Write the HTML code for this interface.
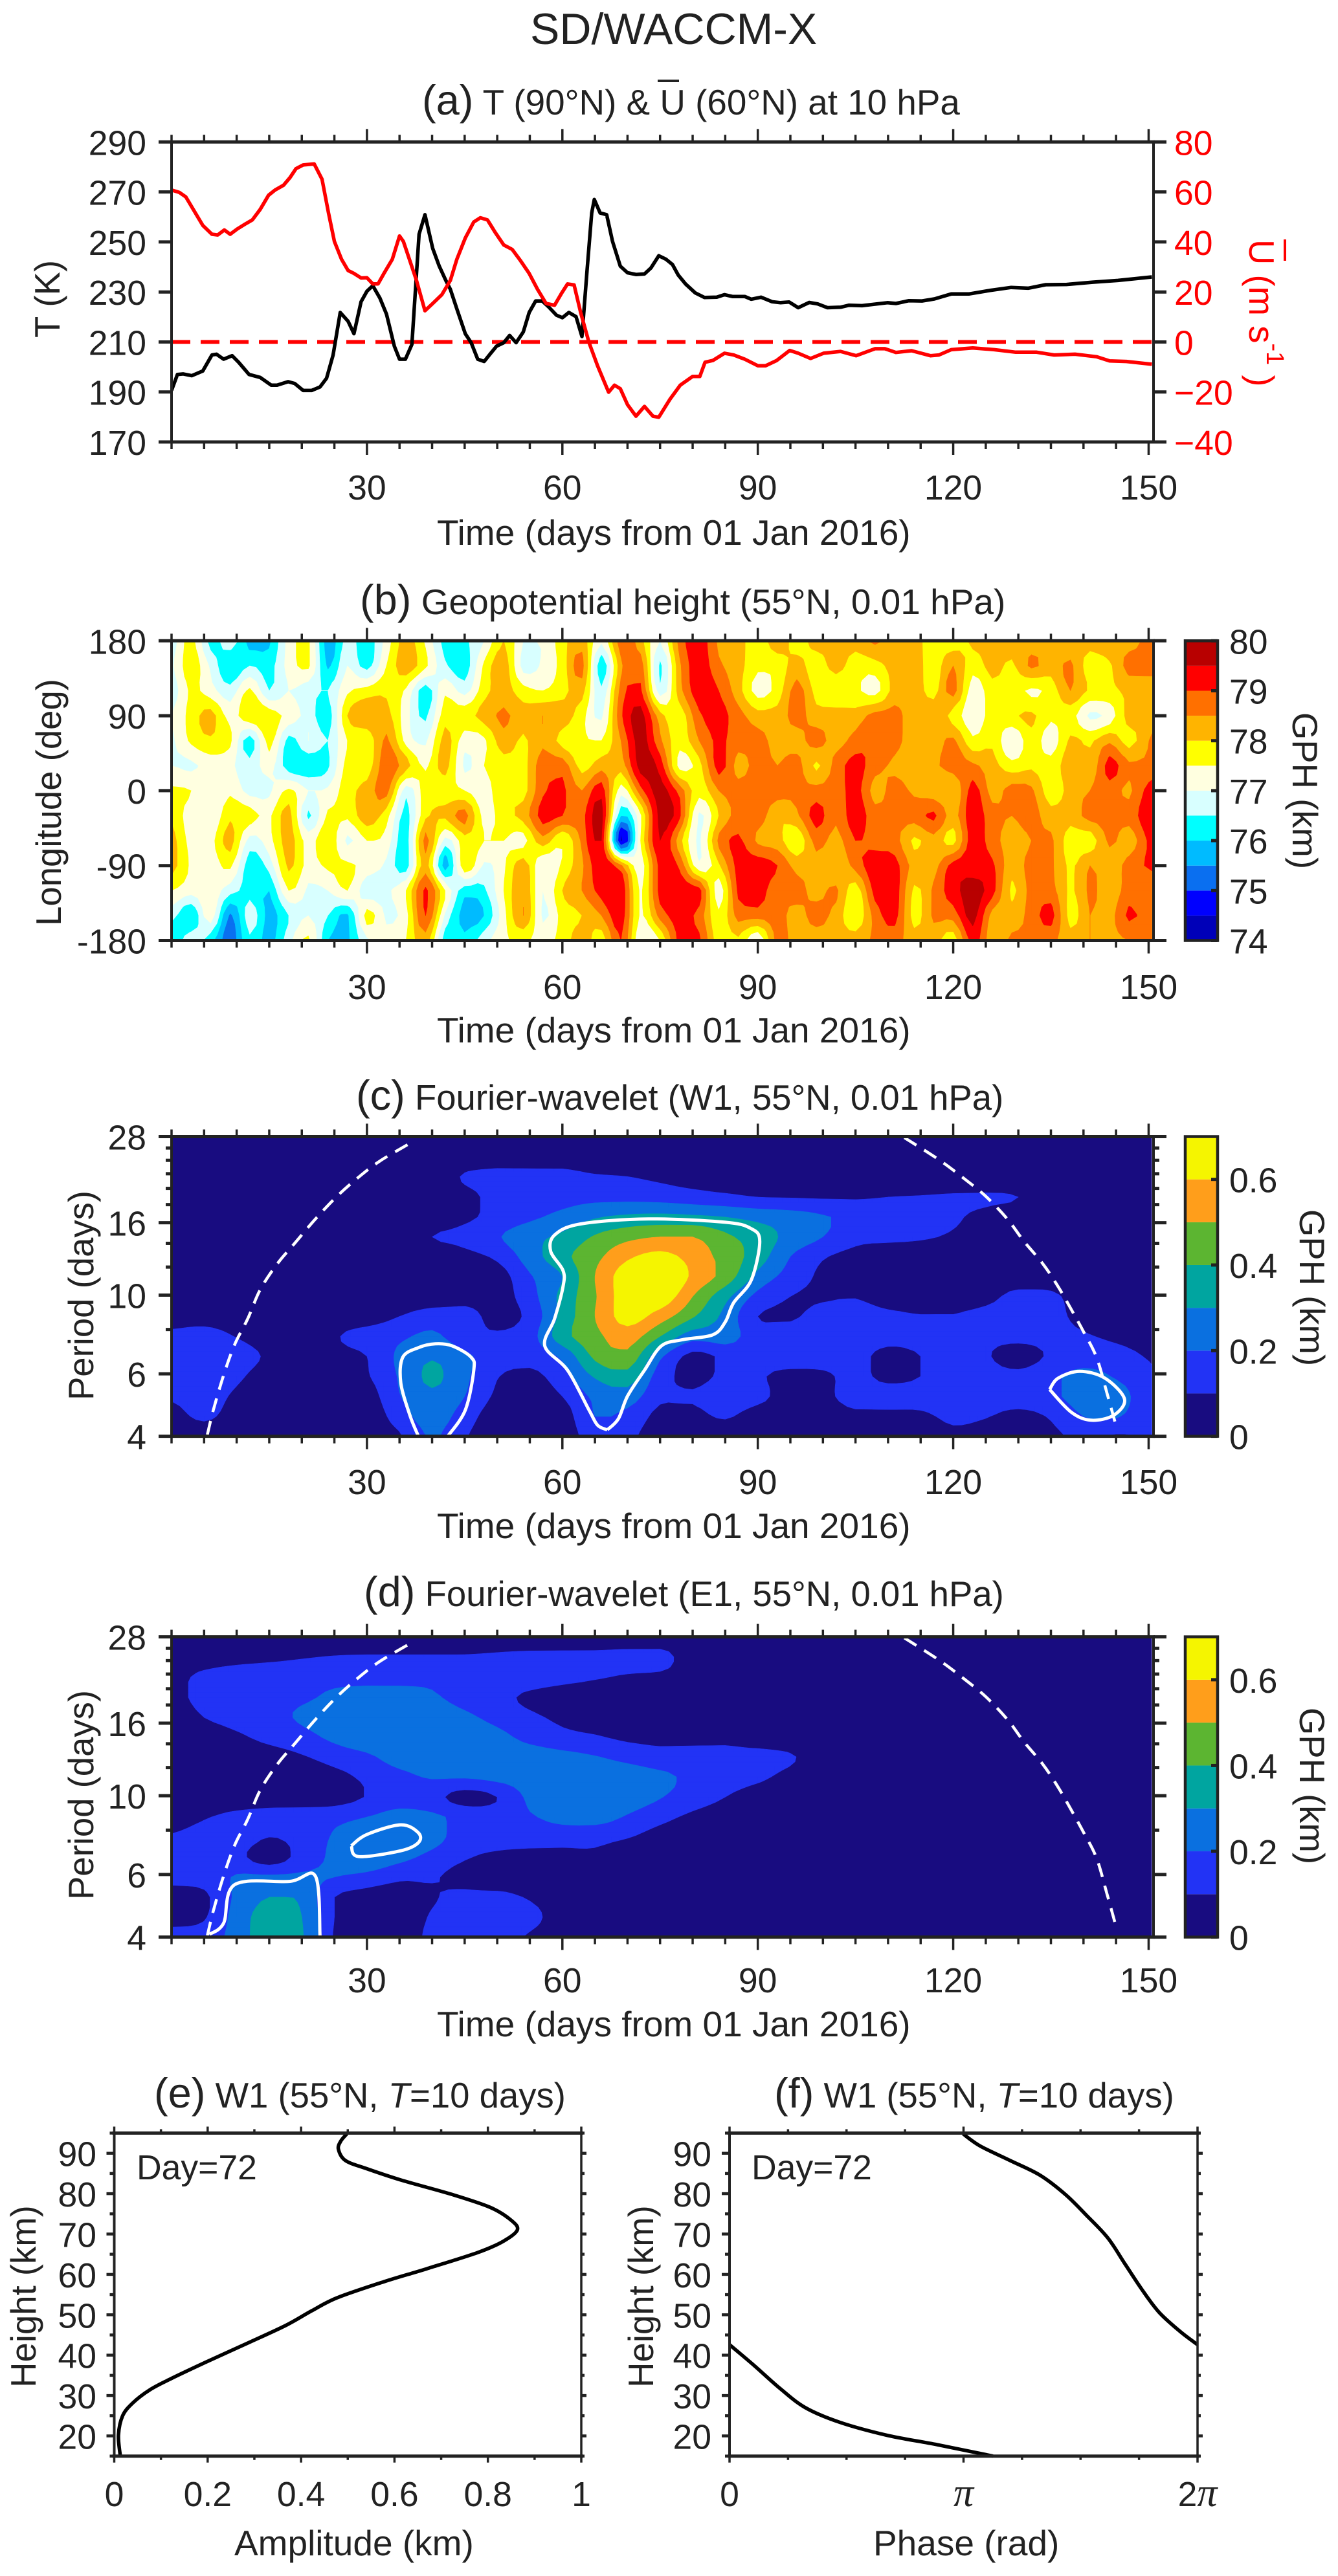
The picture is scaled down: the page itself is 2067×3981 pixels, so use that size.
<!DOCTYPE html>
<html lang="en">
<head>
<meta charset="utf-8">
<title>SD/WACCM-X</title>
<style>
html,body{margin:0;padding:0;background:#fff}
svg{display:block}
text{font-family:"Liberation Sans",sans-serif;fill:#222}
</style>
</head>
<body>
<svg id="fig" xmlns="http://www.w3.org/2000/svg" width="2067" height="3981" viewBox="0 0 2067 3981">
<rect x="0" y="0" width="2067" height="3981" fill="#fff"/>
<text x="819" y="68" font-size="68">SD/WACCM-X</text>

<text x="652" y="177" font-size="54.8"><tspan font-size="65">(a)</tspan> T (90°N) &amp; U (60°N) at 10 hPa</text>
<line x1="1016" y1="125" x2="1049" y2="125" stroke="#222" stroke-width="4"/>
<text transform="translate(92,462) rotate(-90)" text-anchor="middle" font-size="54.5">T (K)</text>
<text transform="translate(1930,370) rotate(90)" font-size="54.5" style="fill:#f00">U  (m s<tspan dy="-27" font-size="38">-1</tspan><tspan dy="27"> )</tspan></text>
<line x1="1985" y1="370" x2="1985" y2="403" stroke="#f00" stroke-width="4"/>
<text x="675" y="842" font-size="55">Time (days from 01 Jan 2016)</text>

<text x="556" y="949" font-size="55"><tspan font-size="65">(b)</tspan> Geopotential height (55°N, 0.01 hPa)</text>
<text transform="translate(94,1240) rotate(-90)" text-anchor="middle" font-size="54.5">Longitude (deg)</text>
<text x="675" y="1611" font-size="55">Time (days from 01 Jan 2016)</text>
<text transform="translate(1997,1222) rotate(90)" text-anchor="middle" font-size="54.5">GPH (km)</text>

<text x="550" y="1715" font-size="54.5"><tspan font-size="65">(c)</tspan> Fourier-wavelet (W1, 55°N, 0.01 hPa)</text>
<text transform="translate(144,2002) rotate(-90)" text-anchor="middle" font-size="54.5">Period (days)</text>
<text x="675" y="2377" font-size="55">Time (days from 01 Jan 2016)</text>
<text transform="translate(2008,1990) rotate(90)" text-anchor="middle" font-size="54.5">GPH (km)</text>

<text x="562" y="2482" font-size="54.5"><tspan font-size="65">(d)</tspan> Fourier-wavelet (E1, 55°N, 0.01 hPa)</text>
<text transform="translate(144,2774) rotate(-90)" text-anchor="middle" font-size="54.5">Period (days)</text>
<text x="675" y="3147" font-size="55">Time (days from 01 Jan 2016)</text>
<text transform="translate(2008,2760) rotate(90)" text-anchor="middle" font-size="54.5">GPH (km)</text>

<text x="238" y="3257" font-size="54.5"><tspan font-size="65">(e)</tspan> W1 (55°N, <tspan font-style="italic">T</tspan>=10 days)</text>
<text transform="translate(55,3549) rotate(-90)" text-anchor="middle" font-size="54.5">Height (km)</text>
<text x="362" y="3949" font-size="55">Amplitude (km)</text>
<text x="211" y="3368" font-size="53.5">Day=72</text>

<text x="1196" y="3257" font-size="54.5"><tspan font-size="65">(f)</tspan> W1 (55°N, <tspan font-style="italic">T</tspan>=10 days)</text>
<text transform="translate(1009,3549) rotate(-90)" text-anchor="middle" font-size="54.5">Height (km)</text>
<text x="1349" y="3949" font-size="55">Phase (rad)</text>
<text x="1161" y="3368" font-size="53.5">Day=72</text>
</svg>

<script>
/* ---------- shared ticks ---------- */
const timeMajorTicks = [30,60,90,120,150];
const timeMinorTicks = [0,5,10,15,20,25,35,40,45,50,55,65,70,75,80,85,95,100,105,110,115,125,130,135,140,145];

/* ---------- panel (a) ---------- */
const tempTicks = [170,190,210,230,250,270,290];
const windTicks = [-40,-20,0,20,40,60,80];
const tempDays = [0,0.9,1.8,3.1,4.8,6.2,6.9,8,9.3,10.3,11.9,13.6,15.3,16.2,17.9,18.9,20.2,21.5,22.8,23.8,24.8,25.9,27.1,28,29.1,30,30.9,32,33,34.2,35,35.9,36.9,37.5,38,38.9,40.1,41.1,42.1,42.8,43.8,45.1,46,47,48,49,49.9,51,51.9,52.9,54,54.9,55.9,56.9,57.9,59.1,60,61,62.1,63,63.8,64.5,64.9,65.8,66.8,67.7,68.9,70,71.3,72.6,73.6,74.8,75.9,76.9,77.8,78.9,80.4,81.8,83.7,84.9,86.1,88,89,90.5,92.2,93.5,94.8,96.2,97.9,99.2,100.7,102.7,104,106,109.9,111.2,113.2,115.2,117.1,119.7,122.4,125.6,128.9,131.5,134.2,137.4,141.4,145.3,150.5];
const tempValues = [190.6,197,197.2,196.5,198.4,204.8,205.1,203.1,204.5,201.9,197,195.8,192.7,192.7,194.1,193.4,190.6,190.6,192,195.5,204.8,221.8,218.3,213.3,226.1,230.3,232.5,227.5,221.1,208.3,203.1,203.1,209,233.2,253.1,260.9,247.4,240.3,234.6,231.1,223.2,213.3,209.7,203.1,202.2,205.5,208.3,209.7,212.6,209.7,214,221.8,226.4,226.4,224,220.7,219.7,221.8,220.1,212.2,238.9,261.6,267,261.6,260.9,250.2,240.3,237.7,237,237.2,239.6,244.5,243.1,241,236.7,233.2,229.6,227.8,227.9,228.9,228.2,228.2,227.1,227.9,226.1,225.7,226,223.7,225.8,225.2,223.7,223.9,224.7,224.5,225.7,225.4,226.5,226.4,227.2,229.2,229.2,230.6,231.8,231.5,232.9,233,233.9,234.6,236];
const windDays = [0,1.2,2.2,3.5,4.8,6.2,7.1,8.1,9,10.1,11.4,12.4,13.6,14.9,15.9,17.2,18.2,19.1,20.2,21.9,23.1,24.1,25,26.1,27.1,28,29.1,30,30.9,31.7,32.6,33.9,35,35.6,36.6,37.6,38.9,40.1,41.5,42.8,43.8,45.1,46.4,47.4,48.5,49.7,51,52.3,53.6,54.9,56.2,57.5,58.8,59.9,60.8,61.8,62.8,64.1,65.4,67.1,68,68.9,70,71.3,72.6,73.9,74.8,76.5,78.1,80,81.1,81.9,83.1,84.9,86.3,88,90,91.2,92.9,94.9,96.2,98.1,100.1,102.7,105.1,108,109.5,111.2,113.6,116.5,117.8,119.7,123,126.3,129.6,132.8,135.5,138.7,142,144,146.6,150.5];
const windValues = [60.8,59.8,58,52.3,46.6,43.1,42.8,44.8,43.1,45.2,47.3,48.8,53,58.7,60.8,62.7,65.8,69.3,70.8,71.2,65.1,51.6,40.2,33.1,28.6,27.4,25.6,25.7,23.2,23.2,27.4,33.1,42.4,40.2,32.4,24.6,12.5,15.4,18.9,24.6,33.1,41.6,48,49.7,48.8,43.8,38.8,37,32.4,27.4,21,15.4,14.7,19.6,23.2,22.8,11.8,-0.3,-9.5,-20.1,-17.3,-18.7,-25.1,-29.7,-25.8,-29.7,-30.1,-23,-17.3,-13.8,-13.8,-8.1,-7.4,-4.5,-5.2,-6.9,-9.5,-9.5,-7.4,-3.4,-4.5,-6.6,-4.5,-3.8,-5.5,-2.7,-2.7,-4.2,-3.5,-5.5,-5.2,-3.1,-2.4,-3.1,-4.1,-4.1,-5.2,-4.9,-5.9,-7.6,-7.8,-8.9];
const windZeroLine = [0];

/* ---------- panel (b) geopotential height field, rows by longitude, columns every 3 days ---------- */
const gphDays = [0,3,6,9,12,15,18,21,24,27,30,33,36,39,42,45,48,51,54,57,60,63,66,69,72,75,78,81,84,87,90,93,96,99,102,105,108,111,114,117,120,123,126,129,132,135,138,141,144,147,150.5];
const gphLongitudes = [180,150,120,90,60,30,0,-30,-60,-90,-120,-150,-180];
const gphLonTicks = [-180,-90,0,90,180];
const gphLevels = [74,74.5,75,75.5,76,76.5,77,77.5,78,78.5,79,79.5,80];
const gphColors = ['#0000b8','#0000ff','#0a6ff0','#00bbff','#00ffff','#d8ffff','#ffffe0','#ffff00','#ffb400','#ff7000','#ff0000','#b80000'];
const gphColorbarTicks = [74,75,76,77,78,79,80];
const gphLon180 = [76.7,77.7,76.3,76.8,75.8,75.9,77.2,77.6,75.7,76.7,76.2,77.2,78.2,77.4,76.3,76.4,77,78,77,77,77.8,78.3,77.1,78.8,78.2,77.0,78.7,79.3,78.4,78.2,77.7,78.3,77.8,78.2,78.2,78.2,78.6,78.2,78.2,77.7,77.7,78.1,78.2,78.3,78.2,78.2,78.1,78.2,78.5,78.3,78.7];
const gphLon150 = [76.9,77.8,76.9,76.0,76.5,76.3,77.2,77.6,75.9,77,76.3,77.5,78.3,77.6,76.6,76.2,77.6,78.3,76.8,77.1,77.7,78.7,76.1,78.4,78.8,76.4,78.4,79.3,78.6,78.2,77.6,77.7,78.2,77.7,78.2,77.7,77.8,78.2,78.3,77.7,78.5,77.7,78.2,77.9,78.6,78.2,78.6,77.7,77.9,78.7,78.7];
const gphLon120 = [76.7,77.6,77.2,76.7,77.6,76.5,77.0,76.7,76.5,77.4,77.7,77.9,77.4,76.2,77.4,76.8,77.8,78.2,77.7,77.5,77.8,78.2,76.6,78.7,79.1,76.7,78.3,79.3,79.0,78.2,77.3,77.7,78.7,77.8,77.6,77.6,77.3,78.2,78.3,77.8,78.7,77.2,77.8,77.8,77.4,77.7,78.5,77.9,77.9,78.1,78.2];
const gphLon90 = [77.0,77.7,78.2,77.3,77.9,77.8,77.3,76.8,76.2,78,78.4,78.2,77.2,76.4,77.8,77.8,78.2,78.6,78.2,78.5,78.3,77.7,76.9,78.9,79.7,78.2,77.7,78.9,79.2,78.7,78.2,78.2,78.7,78.2,78.2,78.2,78.7,78.7,78.2,78.4,77.8,77.2,77.7,77.9,78.1,77.6,77.7,76.9,77.2,78.2,78.2];
const gphLon60 = [76.9,77.6,77.9,77.6,76.2,77.7,76.3,77.0,76.5,77.5,77.6,78.6,77.3,76.9,78.2,77.2,77.4,78.3,77.9,78.4,77.8,77.6,77.5,78.5,79.7,78.6,77.7,78.5,79.1,78.7,78.7,78.3,78.3,78.7,78.3,78.7,79,78.7,78.2,78.2,78.6,77.6,77.9,77.0,77.8,77.2,78.1,77.9,78.4,77.8,78.6];
const gphLon30 = [77.0,76.9,77.2,77.1,76.7,77.2,76.2,76.1,76.4,77.7,77.7,78.8,78.2,77.4,78.2,76.9,77.5,77.8,77.8,78.8,78.8,77.8,78.3,78.2,79.7,79.3,77.3,77.8,79.2,78.3,78.7,78.5,78.7,77.9,78.7,79.2,78.7,78.4,78.2,78.4,78.7,78.6,78.2,77.7,77.9,77.7,78.3,78.1,79.2,78.6,78.6];
const gphLon0 = [77.6,77.5,77.0,77.4,76.8,76.9,77.6,77.0,77.1,77.8,78.2,78.7,76.7,77.8,77.7,77.5,77.2,78,77.8,78.9,79.1,78.5,79.3,77.2,78.8,79.7,78.8,77.7,78.5,78.7,78.9,78.7,78.6,78.7,78.7,79.2,78.3,78.7,78.4,78.2,78,79.2,78.3,78.7,78.6,77.7,78.2,78.5,78.8,78.4,79.3];
const gphLonM30 = [77.9,77.2,77,77.9,77.7,77.4,78.2,76.4,77.6,77.6,78.3,77.7,76.3,77.9,78.1,78.7,77.3,77.8,78.2,79.2,79,78.8,79.7,76,77.4,79.7,79.1,76.9,78,78.7,78.8,78.1,78.4,79.2,78.6,79.3,78.7,78.7,78.7,79.1,78.3,79.3,78.7,78.5,78.7,78.2,78.2,78.7,78.7,78.7,79.5];
const gphLonM60 = [78.2,77.3,77.3,78.2,76.8,77.3,78.2,77.3,77.9,76.9,77.5,77.3,76.2,78.7,76.8,77.8,77.5,77.5,77.3,78.3,77.5,78.6,79.5,74.4,77.5,79.5,78.2,76.9,78.6,79.1,78.4,78.2,77.6,78.7,78.3,79,78.8,78.7,77.9,78.3,77.8,79.3,78.7,78.3,78.5,78.6,77.7,77.7,78.6,78.2,79.2];
const gphLonM90 = [78.2,77.4,77.2,77.6,76.2,76.7,78.1,77.3,77.6,77.6,77.3,76.9,76.2,78.3,75.7,77.9,76.9,77.4,78.3,77,77.6,78.4,79.4,78.6,77.2,79.2,78.9,77.1,77.9,79.2,79.3,79,78.3,78.3,78,78.7,79.3,79.2,78.3,78.3,79.2,79.3,79.1,78.2,78.7,78.6,77.9,78.5,78.2,78.7,79.1];
const gphLonM120 = [77.5,77.2,77.3,76.7,76.3,76.0,77.5,76.9,77,77.5,76.7,76.9,77.5,79.1,77.5,76.2,76.4,77.5,78.4,77,78,78.5,79.2,79.4,77.4,79.2,79.3,79.2,77.2,79.1,79.3,78.6,78.7,78.3,78.6,77.7,79.2,79.3,77.9,78.6,79.3,79.7,79.2,77.9,78.7,78.7,77.9,78.6,78.2,78.7,78.6];
const gphLonM150 = [76.7,76,77.3,75.4,76.8,75.8,76.5,77,76.5,75.9,77.7,76.9,77.3,79,76.9,75.8,76.0,77.3,78.5,76.9,77.7,78,78.5,79.3,77.4,78.7,79.2,78.8,77.6,78.7,78.7,78.7,78.3,78.7,78.3,77.6,78.7,79.2,77.8,78.6,78.7,79.7,78.3,78.2,78.7,79.2,77.8,78.5,78.3,79.1,78.6];
const gphLonM180 = [76,76.8,76.2,75.2,76.4,75.8,76.8,77.6,76.0,75.9,76.9,77.2,77.5,78.3,76.2,76.1,76.8,77.4,77.6,77.3,77.7,78.3,77.7,79,77,77.5,79.2,79.1,77.7,77.9,77,78.7,78.2,78.2,78.2,78.2,78.6,78.7,78.2,78.2,77.7,79.2,78.2,78.6,78.5,78.6,78.2,78.5,78.4,78.5,78.8];

/* ---------- panels (c),(d) wavelet amplitude, rows by period, columns every 5 days ---------- */
const waveletDays = [0,5,10,15,20,25,30,35,40,45,50,55,60,65,70,75,80,85,90,95,100,105,110,115,120,125,130,135,140,145,150.5];
const waveletPeriods = [4,4.55,5.18,5.9,6.72,7.65,8.71,9.91,11.3,12.86,14.6,16.6,18.9,21.6,24.6,28];
const periodMajorTicks = [4,6,10,16,28];
const periodMinorTicks = [8,12,14,18,20,22,24,26];
const ampLevels = [0,0.1,0.2,0.3,0.4,0.5,0.6,0.7];
const ampColors = ['#180c80','#2233f5','#0a70e0','#00a5a0','#5cb531','#ff9e1b','#f5f500'];
const ampColorbarTicks = [0,0.2,0.4,0.6];

const w1P04 = [.03,.03,.03,.03,.03,.03,.03,.09,.21,.11,.03,.03,.05,.14,.12,.05,.04,.04,.04,.04,.04,.04,.04,.04,.08,.06,.05,.08,.12,.09,.11];
const w1P05a = [.06,.12,.05,.03,.03,.03,.03,.15,.25,.15,.04,.03,.05,.2,.17,.07,.07,.11,.05,.04,.04,.07,.07,.08,.12,.105,.07,.11,.2,.21,.11];
const w1P05b = [.11,.15,.08,.03,.03,.03,.05,.195,.28,.2,.08,.04,.1,.22,.25,.12,.11,.16,.13,.05,.07,.15,.15,.14,.16,.15,.15,.18,.24,.25,.12];
const w1P06 = [.12,.16,.12,.04,.03,.05,.09,.21,.32,.22,.105,.07,.16,.31,.36,.15,.07,.12,.11,.07,.08,.13,.07,.10,.14,.14,.13,.18,.23,.19,.11];
const w1P07a = [.14,.18,.16,.08,.04,.07,.10,.22,.29,.22,.15,.14,.22,.42,.47,.22,.07,.12,.13,.15,.15,.14,.06,.10,.13,.11,.05,.115,.15,.14,.09];
const w1P07b = [.12,.14,.095,.04,.03,.09,.14,.18,.22,.14,.115,.16,.36,.47,.55,.40,.24,.25,.14,.14,.16,.16,.14,.13,.12,.12,.13,.13,.11,.08,.05];
const w1P09 = [.06,.06,.05,.05,.05,.05,.05,.10,.15,.15,.06,.13,.33,.50,.64,.55,.41,.27,.10,.09,.13,.14,.12,.105,.105,.13,.15,.13,.07,.04,.04];
const w1P10 = [.03,.03,.03,.03,.03,.03,.03,.03,.04,.05,.05,.16,.33,.49,.66,.67,.50,.33,.17,.10,.09,.095,.06,.05,.05,.07,.13,.12,.05,.03,.03];
const w1P11 = [.03,.03,.03,.03,.03,.03,.03,.03,.03,.03,.05,.19,.30,.50,.66,.72,.58,.46,.27,.16,.08,.05,.05,.05,.05,.05,.04,.04,.04,.04,.04];
const w1P13 = [.03,.03,.03,.03,.03,.03,.03,.03,.03,.07,.12,.25,.37,.47,.58,.63,.56,.46,.35,.20,.11,.07,.05,.05,.05,.05,.05,.05,.05,.05,.05];
const w1P15 = [.03,.03,.03,.03,.03,.03,.03,.04,.10,.13,.19,.27,.32,.41,.47,.50,.50,.42,.35,.27,.20,.13,.12,.11,.09,.07,.04,.03,.03,.03,.03];
const w1P17 = [.03,.03,.03,.03,.03,.03,.03,.03,.03,.08,.13,.18,.23,.29,.32,.33,.32,.30,.27,.245,.21,.17,.15,.14,.11,.08,.05,.03,.03,.03,.03];
const w1P19 = [.03,.03,.03,.03,.03,.03,.03,.03,.03,.07,.13,.15,.16,.17,.17,.16,.14,.12,.10,.095,.09,.09,.10,.105,.11,.11,.10,.05,.03,.03,.03];
const w1P22 = [.03,.03,.03,.03,.03,.03,.03,.03,.03,.11,.13,.13,.13,.11,.10,.08,.06,.05,.04,.04,.04,.04,.04,.04,.04,.04,.04,.04,.04,.04,.04];
const w1P25 = [.03,.03,.03,.03,.03,.03,.03,.03,.03,.03,.05,.05,.05,.03,.03,.03,.03,.03,.03,.03,.03,.03,.03,.03,.03,.03,.03,.03,.03,.03,.03];
const w1P28 = [.02,.02,.02,.02,.02,.02,.02,.02,.02,.02,.02,.02,.02,.02,.02,.02,.02,.02,.02,.02,.02,.02,.02,.02,.02,.02,.02,.02,.02,.02,.02];

const e1P04 = [.13,.15,.24,.37,.31,.09,.04,.05,.12,.14,.13,.09,.03,.03,.03,.03,.03,.03,.03,.03,.03,.03,.03,.03,.03,.03,.03,.03,.03,.03,.03];
const e1P05a = [.07,.09,.24,.35,.3,.1,.04,.04,.11,.15,.15,.13,.05,.03,.03,.03,.03,.03,.03,.03,.03,.03,.03,.03,.03,.03,.03,.03,.03,.03,.03];
const e1P05b = [.07,.08,.22,.30,.28,.10,.05,.04,.09,.13,.13,.09,.04,.03,.03,.03,.03,.03,.03,.03,.03,.03,.03,.03,.03,.03,.03,.03,.03,.03,.03];
const e1P06 = [.12,.14,.21,.22,.22,.2,.17,.12,.11,.06,.03,.03,.03,.03,.03,.03,.03,.03,.03,.03,.03,.03,.03,.03,.03,.03,.03,.03,.03,.03,.03];
const e1P07a = [.13,.16,.13,.04,.14,.22,.27,.23,.17,.11,.08,.07,.07,.08,.04,.03,.03,.03,.03,.03,.03,.03,.03,.03,.03,.03,.03,.03,.03,.03,.03];
const e1P07b = [.11,.15,.16,.10,.14,.21,.27,.29,.24,.15,.14,.14,.14,.13,.105,.06,.04,.03,.03,.03,.03,.03,.03,.03,.03,.03,.03,.03,.03,.03,.03];
const e1P09 = [.04,.09,.13,.15,.16,.17,.20,.24,.22,.17,.15,.19,.23,.24,.19,.13,.08,.05,.03,.03,.03,.03,.03,.03,.03,.03,.03,.03,.03,.03,.03];
const e1P10 = [.03,.03,.03,.03,.03,.05,.105,.15,.13,.06,.1,.22,.25,.26,.25,.205,.15,.1,.05,.03,.03,.03,.03,.03,.03,.03,.03,.03,.03,.03,.03];
const e1P11 = [.03,.03,.03,.03,.03,.07,.12,.17,.21,.21,.23,.25,.26,.26,.25,.22,.18,.15,.12,.07,.03,.03,.03,.03,.03,.03,.03,.03,.03,.03,.03];
const e1P13 = [.03,.03,.03,.05,.09,.14,.18,.25,.27,.27,.26,.25,.23,.205,.17,.14,.14,.14,.14,.11,.05,.03,.03,.03,.03,.03,.03,.03,.03,.03,.03];
const e1P15 = [.04,.04,.08,.13,.17,.22,.27,.29,.29,.27,.23,.17,.13,.11,.08,.07,.07,.07,.04,.03,.03,.03,.03,.03,.03,.03,.03,.03,.03,.03,.03];
const e1P17 = [.04,.10,.14,.17,.21,.23,.245,.25,.25,.22,.17,.12,.08,.05,.03,.03,.03,.03,.03,.03,.03,.03,.03,.03,.03,.03,.03,.03,.03,.03,.03];
const e1P19 = [.07,.13,.15,.17,.19,.21,.22,.22,.21,.17,.13,.08,.05,.03,.03,.03,.03,.03,.03,.03,.03,.03,.03,.03,.03,.03,.03,.03,.03,.03,.03];
const e1P22 = [.06,.13,.17,.18,.18,.18,.18,.18,.18,.17,.16,.15,.13,.11,.09,.08,.05,.03,.03,.03,.03,.03,.03,.03,.03,.03,.03,.03,.03,.03,.03];
const e1P25 = [.02,.03,.05,.07,.09,.105,.11,.11,.11,.11,.12,.13,.13,.13,.14,.14,.04,.03,.03,.03,.03,.03,.03,.03,.03,.03,.03,.03,.03,.03,.03];
const e1P28 = [.02,.02,.02,.02,.02,.02,.02,.02,.02,.02,.02,.02,.02,.02,.02,.02,.02,.02,.02,.02,.02,.02,.02,.02,.02,.02,.02,.02,.02,.02,.02];

/* cone of influence (day, period) */
const coiLeftDays = [5.5,6.4,8,9.7,11.7,13.6,16.2,18.9,22.1,25.4,28.7,32,36.6];
const coiLeftPeriods = [4.04,4.73,5.95,7.26,8.58,10.35,12.23,14,16.4,19,21.5,23.9,26.8];
const coiRightDays = [112.5,117.8,121.7,125,128.3,130.9,133.8,136.1,138.1,140,142,143.6,144.9];
const coiRightPeriods = [27.8,24.1,21.3,19,16.4,14.16,12.23,10.57,9.13,7.89,6.68,5.3,4.35];

/* significance contours (day, period) */
const w1MainSigDays = [66.9,68.6,70,72.6,75.2,78.5,83.1,85,86.3,89,90.3,89,85,73.2,62.8,58.8,58.2,60.1,60.1,58.8,57.3,60.8,64.1,65.4,66.9];
const w1MainSigPeriods = [4.17,4.48,5.19,6.14,7.19,7.49,7.73,8.4,9.52,11.03,14.16,15.4,16.05,16.4,15.88,14.77,13.3,11.73,10.57,8.58,7.19,6.14,4.74,4.3,4.17];
const w1SideSigDays = [37.9,36.6,35.2,35.5,37.9,40.5,43.1,46,46.4,45.1,42.4];
const w1SideSigPeriods = [4,4.58,5.65,6.68,7.11,7.29,7.19,6.68,6.14,4.74,4];
const w1RightSigDays = [134.8,136.1,139.4,143.3,146.3,144.6,141.1,138.1,134.8];
const w1RightSigPeriods = [5.42,5.83,6.1,5.83,5.09,4.58,4.44,4.68,5.42];
const e1UpperSigDays = [27.6,30,35.2,37.9,37.9,35.2,28.7,27.6];
const e1UpperSigPeriods = [7.23,7.78,8.28,7.86,7.38,7,6.74,7.23];
const e1LowerSigDays = [5.8,8,9.7,18.2,22.1,22.8];
const e1LowerSigPeriods = [4.07,4.38,5.62,5.74,5.93,4.02];

/* ---------- panels (e),(f) ---------- */
const heightMajorTicks = [20,30,40,50,60,70,80,90];
const heightMinorTicks = [15,25,35,45,55,65,75,85,95];
const ampAxisTicks = [0,0.2,0.4,0.6,0.8,1];
const ampAxisMinor = [0.1,0.3,0.5,0.7,0.9];
const amplitudeValues = [.013,.009,.018,.04,.076,.122,.195,.286,.368,.423,.477,.578,.669,.778,.833,.863,.85,.805,.723,.613,.54,.495,.48,.485,.498];
const amplitudeHeights = [15,20.2,25,28.2,31.4,34.2,38.2,43,47.4,51,54.2,58.2,61.4,65.4,68.2,71,73.4,76.6,79.8,83.4,86.2,88.2,91,93,94.8];
const phaseUpperPi = [.998,1.071,1.199,1.326,1.435,1.526,1.617,1.69,1.763,1.836,1.927,2];
const phaseUpperHeights = [94.8,91.8,88.2,84.6,79.8,74.6,69,62.6,56.2,50.6,45.8,42.6];
const phaseLowerPi = [0,.106,.215,.324,.47,.67,.889,1.126];
const phaseLowerHeights = [42.6,37.4,31.8,27,23.4,20.2,17.8,15];
const phaseAxisMajor = [0,1,2];
const phaseAxisCoefficients = ['0','','2'];
const phaseAxisSymbols = ['','π','π'];
const phaseAxisMinor = [0.25,0.5,0.75,1.25,1.5,1.75];

/* ---------- scales ---------- */
const NS = 'http://www.w3.org/2000/svg';
const fig = document.getElementById('fig');
const INK = '#222';
const TL = 265, TR = 1782;
function xDay(d){ return TL + d * 10.063; }
const A = {top:219.4, bot:683};
const B = {top:990.3, bot:1453.5};
const C = {top:1756.5, bot:2219.6};
const D = {top:2529.6, bot:2993.6};
const E = {top:3296.5, bot:3795.7, left:176.5, right:898};
const F = {top:3296.5, bot:3795.7, left:1127, right:1850};
function yTemp(v){ return A.top + (290 - v) / 120 * (A.bot - A.top); }
function yWind(v){ return A.top + (80 - v) / 120 * (A.bot - A.top); }
function yLon(v){ return B.top + (180 - v) / 360 * (B.bot - B.top); }
function yGph(v,P){ return P.bot - (v - 74) / 6 * (P.bot - P.top); }
function yPeriod(p,P){ return P.bot - Math.log(p / 4) / Math.log(7) * (P.bot - P.top); }
function yAmpBar(v,P){ return P.bot - v / 0.7 * (P.bot - P.top); }
function yHeight(h){ return E.bot - (h - 15) / 80 * (E.bot - E.top); }
function xAmp(v){ return E.left + v * (E.right - E.left); }
function xPhase(v){ return F.left + v / 2 * (F.right - F.left); }

/* ---------- primitives ---------- */
function addLine(parent, name, x1, y1, x2, y2, width, color){
  const el = document.createElementNS(NS, 'line');
  
  
  el.setAttribute('x1', x1); el.setAttribute('y1', y1);
  el.setAttribute('x2', x2); el.setAttribute('y2', y2);
  el.setAttribute('stroke', color || INK);
  el.setAttribute('stroke-width', width);
  parent.appendChild(el);
  return el;
}
function addText(parent, name, x, y, str, anchor, color, size){
  const el = document.createElementNS(NS, 'text');
  
  
  el.setAttribute('x', x); el.setAttribute('y', y);
  el.setAttribute('text-anchor', anchor || 'middle');
  el.setAttribute('font-size', size || 53.5);
  if (color) el.style.fill = color;
  el.textContent = str;
  parent.appendChild(el);
  return el;
}
function addGroup(name){
  const g = document.createElementNS(NS, 'g');
  
  
  fig.appendChild(g);
  return g;
}
function addRect(parent, name, x, y, w, h, fill){
  const el = document.createElementNS(NS, 'rect');
  
  
  el.setAttribute('x', x); el.setAttribute('y', y);
  el.setAttribute('width', w); el.setAttribute('height', h);
  el.setAttribute('fill', fill);
  parent.appendChild(el);
  return el;
}
function addPolyline(parent, name, xs, ys, width, color, dash, smooth){
  const el = document.createElementNS(NS, 'path');
  
  
  let d = 'M' + xs[0].toFixed(1) + ' ' + ys[0].toFixed(1);
  for (let i = 1; i < xs.length; i++){
    if (smooth){
      const p0 = i > 1 ? i - 2 : i - 1, p3 = i < xs.length - 1 ? i + 1 : i;
      const c1x = xs[i-1] + (xs[i] - xs[p0]) / 6, c1y = ys[i-1] + (ys[i] - ys[p0]) / 6;
      const c2x = xs[i] - (xs[p3] - xs[i-1]) / 6, c2y = ys[i] - (ys[p3] - ys[i-1]) / 6;
      d += 'C' + c1x.toFixed(1) + ' ' + c1y.toFixed(1) + ' ' + c2x.toFixed(1) + ' ' + c2y.toFixed(1) + ' ' + xs[i].toFixed(1) + ' ' + ys[i].toFixed(1);
    } else {
      d += 'L' + xs[i].toFixed(1) + ' ' + ys[i].toFixed(1);
    }
  }
  el.setAttribute('d', d);
  el.setAttribute('fill', 'none');
  el.setAttribute('stroke', color);
  el.setAttribute('stroke-width', width);
  el.setAttribute('stroke-linejoin', 'round');
  if (dash) el.setAttribute('stroke-dasharray', dash);
  parent.appendChild(el);
  return el;
}

/* ---------- field contouring ---------- */
function catmull(a, b, c, d, t){
  const v = 0.5 * (2*b + (c-a)*t + (2*a-5*b+4*c-d)*t*t + (3*b-a-3*c+d)*t*t*t);
  return Math.min(Math.max(b, c), Math.max(Math.min(b, c), v));
}
function upsampleField(field, f){
  const R = field.length, Cn = field[0].length;
  const rowsUp = field.map(function(row){
    const out = [];
    for (let c = 0; c < Cn - 1; c++){
      for (let k = 0; k < f; k++){
        out.push(catmull(row[Math.max(c-1,0)], row[c], row[c+1], row[Math.min(c+2,Cn-1)], k/f));
      }
    }
    out.push(row[Cn-1]);
    return out;
  });
  const res = [];
  for (let r = 0; r < R - 1; r++){
    for (let k = 0; k < f; k++){
      const line = [];
      for (let c = 0; c < rowsUp[0].length; c++){
        line.push(catmull(rowsUp[Math.max(r-1,0)][c], rowsUp[r][c], rowsUp[r+1][c], rowsUp[Math.min(r+2,R-1)][c], k/f));
      }
      res.push(line);
    }
  }
  res.push(rowsUp[R-1]);
  return res;
}
function refinePositions(pos, f){
  const out = [];
  for (let i = 0; i < pos.length - 1; i++){
    for (let k = 0; k < f; k++) out.push(pos[i] + (pos[i+1] - pos[i]) * k / f);
  }
  out.push(pos[pos.length-1]);
  return out;
}
function bandPath(field, px, py, level){
  let d = '';
  const fmt = function(v){ return v.toFixed(1); };
  for (let r = 0; r < field.length - 1; r++){
    let runStart = -1;
    for (let c = 0; c < px.length - 1; c++){
      const v = [field[r][c], field[r][c+1], field[r+1][c+1], field[r+1][c]];
      const allIn = v[0] >= level && v[1] >= level && v[2] >= level && v[3] >= level;
      if (allIn){
        if (runStart < 0) runStart = c;
        continue;
      }
      if (runStart >= 0){
        d += 'M' + fmt(px[runStart]) + ' ' + fmt(py[r]) + 'H' + fmt(px[c]) + 'V' + fmt(py[r+1]) + 'H' + fmt(px[runStart]) + 'Z';
        runStart = -1;
      }
      const X = [px[c], px[c+1], px[c+1], px[c]];
      const Y = [py[r], py[r], py[r+1], py[r+1]];
      const poly = [];
      for (let i = 0; i < 4; i++){
        const j = (i + 1) % 4;
        if (v[i] >= level) poly.push([X[i], Y[i]]);
        if ((v[i] >= level) !== (v[j] >= level)){
          const t = (level - v[i]) / (v[j] - v[i]);
          poly.push([X[i] + (X[j] - X[i]) * t, Y[i] + (Y[j] - Y[i]) * t]);
        }
      }
      if (poly.length > 2){
        d += 'M' + poly.map(function(p){ return fmt(p[0]) + ' ' + fmt(p[1]); }).join('L') + 'Z';
      }
    }
    if (runStart >= 0){
      const last = px.length - 1;
      d += 'M' + fmt(px[runStart]) + ' ' + fmt(py[r]) + 'H' + fmt(px[last]) + 'V' + fmt(py[r+1]) + 'H' + fmt(px[runStart]) + 'Z';
    }
  }
  return d;
}
function drawField(parent, prefix, field, pxNodes, pyNodes, levels, colors, factor){
  const fine = upsampleField(field, factor);
  const px = refinePositions(pxNodes, factor);
  const py = refinePositions(pyNodes, factor);
  const base = document.createElementNS(NS, 'rect');
  
  
  base.setAttribute('x', pxNodes[0]);
  base.setAttribute('y', pyNodes[0]);
  base.setAttribute('width', pxNodes[pxNodes.length-1] - pxNodes[0]);
  base.setAttribute('height', pyNodes[pyNodes.length-1] - pyNodes[0]);
  base.setAttribute('fill', colors[0]);
  parent.appendChild(base);
  for (let i = 1; i < colors.length; i++){
    const d = bandPath(fine, px, py, levels[i]);
    if (!d) continue;
    const el = document.createElementNS(NS, 'path');
    
    
    el.setAttribute('d', d);
    el.setAttribute('fill', colors[i]);
    el.setAttribute('stroke', colors[i]);
    el.setAttribute('stroke-width', '0.5');
    parent.appendChild(el);
  }
}

/* ---------- axes ---------- */
function drawTimeAxis(g, P, labelY){
  timeMinorTicks.forEach(function(d){
    addLine(g, 'x-minor-tick-top', xDay(d), P.top, xDay(d), P.top - 11, 3.5);
    addLine(g, 'x-minor-tick-bottom', xDay(d), P.bot, xDay(d), P.bot + 11, 3.5);
  });
  timeMajorTicks.forEach(function(d){
    addLine(g, 'x-major-tick-top', xDay(d), P.top, xDay(d), P.top - 20, 3.5);
    addLine(g, 'x-major-tick-bottom', xDay(d), P.bot, xDay(d), P.bot + 20, 3.5);
    addText(g, 'x-tick-label', xDay(d), labelY, String(d));
  });
}
function drawFrame(g, P){
  addLine(g, 'plot-top-border', TL - 2, P.top, TR + 2, P.top, 5);
  addLine(g, 'plot-bottom-border', TL - 2, P.bot, TR + 2, P.bot, 5);
  addLine(g, 'plot-left-border', TL, P.top, TL, P.bot, 4);
  addLine(g, 'plot-right-border', TR, P.top, TR, P.bot, 4);
}
function drawLeftRightTick(g, y, len){
  addLine(g, 'y-tick-left', TL, y, TL - len, y, 5);
  addLine(g, 'y-tick-right', TR, y, TR + len, y, 5);
}
function drawColorbar(g, prefix, P, levels, colors, yFn, ticks, fmt){
  for (let i = 0; i < colors.length; i++){
    const y1 = yFn(levels[i+1], P), y0 = yFn(levels[i], P);
    addRect(g, prefix + '-colorbar-band', 1831, y1, 50, y0 - y1, colors[i]);
  }
  const box = addRect(g, prefix + '-colorbar-frame', 1831, P.top, 50, P.bot - P.top, 'none');
  box.setAttribute('stroke', INK);
  box.setAttribute('stroke-width', '4.5');
  ticks.forEach(function(v){
    const y = yFn(v, P);
    addLine(g, prefix + '-colorbar-tick', 1881, y, 1871, y, 5);
    addText(g, prefix + '-colorbar-label', 1899, y + 20, fmt(v), 'start');
  });
}

/* ---------- panel a ---------- */
(function(){
  const g = addGroup('panel-a');
  const clip = document.createElementNS(NS, 'clipPath');
  clip.setAttribute('id', 'clipA');
  const cr = document.createElementNS(NS, 'rect');
  cr.setAttribute('x', TL); cr.setAttribute('y', A.top);
  cr.setAttribute('width', TR - TL); cr.setAttribute('height', A.bot - A.top);
  clip.appendChild(cr); fig.appendChild(clip);
  windZeroLine.forEach(function(v){
    const z = addLine(g, 'zero-wind-dashed-line', TL, yWind(v), TR, yWind(v), 6, '#f00');
    z.setAttribute('stroke-dasharray', '29 16');
  });
  const tl = addPolyline(g, 'temperature-line', tempDays.map(xDay), tempValues.map(yTemp), 5.5, '#000');
  tl.setAttribute('clip-path', 'url(#clipA)');
  const ul = addPolyline(g, 'zonal-wind-line', windDays.map(xDay), windValues.map(yWind), 5.5, '#f00');
  ul.setAttribute('clip-path', 'url(#clipA)');
  tempTicks.forEach(function(v){
    addLine(g, 'temperature-tick', TL, yTemp(v), TL - 20, yTemp(v), 5);
    addText(g, 'temperature-tick-label', 226, yTemp(v) + 20, String(v), 'end');
  });
  windTicks.forEach(function(v){
    addLine(g, 'wind-tick', TR, yWind(v), TR + 20, yWind(v), 5);
    addText(g, 'wind-tick-label', 1814, yWind(v) + 20, v < 0 ? '−' + (-v) : String(v), 'start', '#f00');
  });
  drawTimeAxis(g, A, 772);
  drawFrame(g, A);
})();

/* ---------- panel b ---------- */
(function(){
  const g = addGroup('panel-b');
  const field = [gphLon180,gphLon150,gphLon120,gphLon90,gphLon60,gphLon30,gphLon0,gphLonM30,gphLonM60,gphLonM90,gphLonM120,gphLonM150,gphLonM180];
  drawField(g, 'gph', field, gphDays.map(xDay), gphLongitudes.map(yLon), gphLevels, gphColors, 3);
  gphLonTicks.forEach(function(v){
    drawLeftRightTick(g, yLon(v), 20);
    addText(g, 'longitude-tick-label', 226, yLon(v) + 20, String(v), 'end');
  });
  drawTimeAxis(g, B, 1544);
  drawFrame(g, B);
  drawColorbar(g, 'gph', B, gphLevels, gphColors, yGph, gphColorbarTicks, function(v){ return String(v); });
})();

/* ---------- panels c, d ---------- */
function drawWaveletPanel(P, prefix, field, contours, tickY){
  const g = addGroup(prefix);
  const yP = function(p){ return yPeriod(p, P); };
  drawField(g, prefix + '-amplitude', field.slice().reverse(), waveletDays.map(xDay), waveletPeriods.slice().reverse().map(yP), ampLevels, ampColors, 4);
  addPolyline(g, 'coi-left-dashed-curve', coiLeftDays.map(xDay), coiLeftPeriods.map(yP), 4.5, '#fff', '22 14', true);
  addPolyline(g, 'coi-right-dashed-curve', coiRightDays.map(xDay), coiRightPeriods.map(yP), 4.5, '#fff', '22 14', true);
  contours.forEach(function(c){
    addPolyline(g, 'significance-contour', c[0].map(xDay), c[1].map(yP), 5, '#fff', null, true);
  });
  periodMinorTicks.forEach(function(p){ drawLeftRightTick(g, yP(p), 9); });
  periodMajorTicks.forEach(function(p){
    drawLeftRightTick(g, yP(p), 20);
    addText(g, 'period-tick-label', 226, yP(p) + 20, String(p), 'end');
  });
  drawTimeAxis(g, P, tickY);
  drawFrame(g, P);
  drawColorbar(g, prefix, P, ampLevels, ampColors, yAmpBar, ampColorbarTicks, function(v){ return String(v); });
}
drawWaveletPanel(C, 'panel-c',
  [w1P04,w1P05a,w1P05b,w1P06,w1P07a,w1P07b,w1P09,w1P10,w1P11,w1P13,w1P15,w1P17,w1P19,w1P22,w1P25,w1P28],
  [[w1MainSigDays,w1MainSigPeriods],[w1SideSigDays,w1SideSigPeriods],[w1RightSigDays,w1RightSigPeriods]], 2309);
drawWaveletPanel(D, 'panel-d',
  [e1P04,e1P05a,e1P05b,e1P06,e1P07a,e1P07b,e1P09,e1P10,e1P11,e1P13,e1P15,e1P17,e1P19,e1P22,e1P25,e1P28],
  [[e1UpperSigDays,e1UpperSigPeriods],[e1LowerSigDays,e1LowerSigPeriods]], 3079);

/* ---------- panels e, f ---------- */
function drawProfileFrame(g, P, labelRight){
  heightMinorTicks.forEach(function(h){
    addLine(g, 'height-minor-tick-left', P.left, yHeight(h), P.left - 7, yHeight(h), 4.5);
    addLine(g, 'height-minor-tick-right', P.right, yHeight(h), P.right + 5, yHeight(h), 4.5);
  });
  heightMajorTicks.forEach(function(h){
    addLine(g, 'height-major-tick-left', P.left, yHeight(h), P.left - 12, yHeight(h), 4.5);
    addLine(g, 'height-major-tick-right', P.right, yHeight(h), P.right + 8, yHeight(h), 4.5);
    addText(g, 'height-tick-label', labelRight, yHeight(h) + 20, String(h), 'end');
  });
  addLine(g, 'profile-top-border', P.left - 3, P.top, P.right + 3, P.top, 5);
  addLine(g, 'profile-bottom-border', P.left - 3, P.bot, P.right + 3, P.bot, 5);
  addLine(g, 'profile-left-border', P.left, P.top, P.left, P.bot, 4);
  addLine(g, 'profile-right-border', P.right, P.top, P.right, P.bot, 3.5);
}
(function(){
  const g = addGroup('panel-e');
  addPolyline(g, 'amplitude-profile', amplitudeValues.map(xAmp), amplitudeHeights.map(yHeight), 5.5, '#000', null, true);
  ampAxisMinor.forEach(function(v){
    addLine(g, 'amplitude-minor-tick-top', xAmp(v), E.top, xAmp(v), E.top - 6, 3.5);
    addLine(g, 'amplitude-minor-tick-bottom', xAmp(v), E.bot, xAmp(v), E.bot + 6, 3.5);
  });
  ampAxisTicks.forEach(function(v){
    addLine(g, 'amplitude-major-tick-top', xAmp(v), E.top, xAmp(v), E.top - 10, 3.5);
    addLine(g, 'amplitude-major-tick-bottom', xAmp(v), E.bot, xAmp(v), E.bot + 10, 3.5);
    addText(g, 'amplitude-tick-label', xAmp(v), 3873, String(v));
  });
  drawProfileFrame(g, E, 149);
})();
(function(){
  const g = addGroup('panel-f');
  addPolyline(g, 'phase-profile-upper', phaseUpperPi.map(xPhase), phaseUpperHeights.map(yHeight), 5.5, '#000', null, true);
  addPolyline(g, 'phase-profile-lower', phaseLowerPi.map(xPhase), phaseLowerHeights.map(yHeight), 5.5, '#000', null, true);
  phaseAxisMinor.forEach(function(v){
    addLine(g, 'phase-minor-tick-top', xPhase(v), F.top, xPhase(v), F.top - 6, 3.5);
    addLine(g, 'phase-minor-tick-bottom', xPhase(v), F.bot, xPhase(v), F.bot + 6, 3.5);
  });
  phaseAxisMajor.forEach(function(v, i){
    addLine(g, 'phase-major-tick-top', xPhase(v), F.top, xPhase(v), F.top - 10, 3.5);
    addLine(g, 'phase-major-tick-bottom', xPhase(v), F.bot, xPhase(v), F.bot + 10, 3.5);
    const t = addText(g, 'phase-tick-label', xPhase(v), 3873, phaseAxisCoefficients[i]);
    if (phaseAxisSymbols[i]){
      const sym = document.createElementNS(NS, 'tspan');
      
      
      sym.setAttribute('font-size', '62');
      sym.setAttribute('font-style', 'italic');
      sym.style.fontFamily = '"Liberation Serif", serif';
      sym.textContent = phaseAxisSymbols[i];
      t.appendChild(sym);
    }
  });
  drawProfileFrame(g, F, 1099);
})();
</script>
</body>
</html>
